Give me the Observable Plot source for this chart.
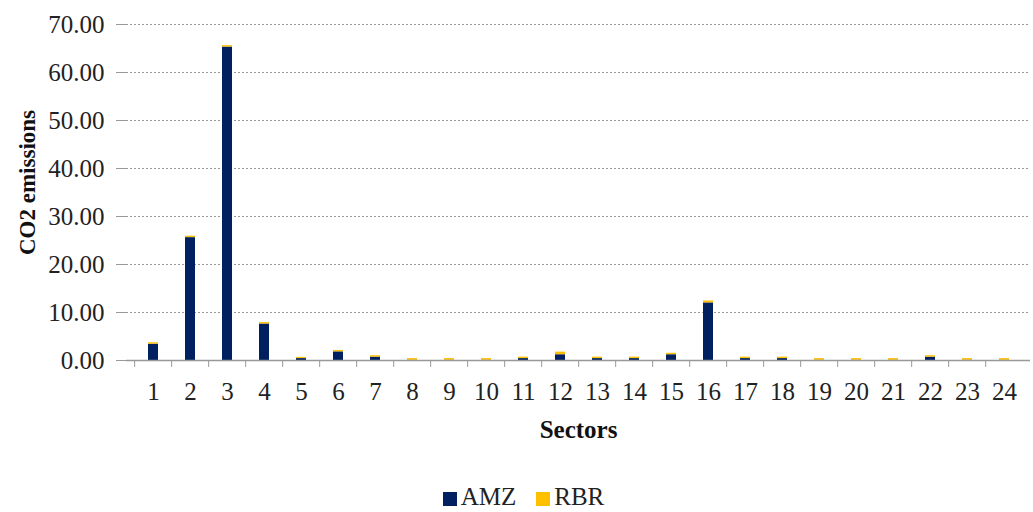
<!DOCTYPE html>
<html>
<head>
<meta charset="utf-8">
<script src="https://cdn.jsdelivr.net/npm/d3@7"></script>
<script src="https://cdn.jsdelivr.net/npm/@observablehq/plot@0.6"></script>
<style>
  body { margin: 0; background: #fff; font-family: "Liberation Serif", "Times New Roman", serif; }
  #legend { width: 1033px; display: flex; justify-content: center; gap: 20px; font-size: 25px; line-height: 30px; color: #222; margin-top: 37px; padding-left: 14px; box-sizing: border-box; }
  .item { display: flex; align-items: center; gap: 4px; }
  .sw { width: 14px; height: 14px; display: inline-block; margin-top: 3px; }
</style>
</head>
<body>
<div id="chart"></div>
<div id="legend"></div>
<script>
const sectors = [1,2,3,4,5,6,7,8,9,10,11,12,13,14,15,16,17,18,19,20,21,22,23,24];
const amz = [3.4,25.6,65.3,7.6,0.4,1.8,0.7,0.05,0.05,0.05,0.4,1.2,0.4,0.4,1.2,12.0,0.4,0.4,0.05,0.05,0.05,0.7,0.05,0.05];
const rbr = [0.3,0.3,0.3,0.3,0.25,0.3,0.3,0.35,0.35,0.35,0.3,0.55,0.3,0.3,0.3,0.4,0.3,0.3,0.35,0.35,0.35,0.3,0.35,0.35];
const seriesNames = ["AMZ", "RBR"];
const seriesColors = ["#002060", "#FFC000"];
const yTicks = [0,10,20,30,40,50,60,70];

const rows = [];
sectors.forEach((s, i) => {
  rows.push({sector: s, series: "AMZ", value: amz[i]});
  rows.push({sector: s, series: "RBR", value: rbr[i]});
});

const W = 1033, H = 445, mL = 126, mR = 3, mT = 24, mB = 85;
const step = (W - mL - mR) / sectors.length;

const chart = Plot.plot({
  width: W, height: H,
  marginLeft: mL, marginRight: mR, marginTop: mT, marginBottom: mB,
  style: {fontFamily: "Liberation Serif, serif", fontSize: "25px", color: "#222", background: "#fff"},
  x: {domain: sectors, paddingInner: 0.73, paddingOuter: 0.365},
  y: {domain: [0, 70]},
  color: {domain: seriesNames, range: seriesColors},
  marks: [
    Plot.gridY(yTicks.filter(d => d > 0), {stroke: "#999", strokeOpacity: 1, strokeDasharray: "2,2", strokeWidth: 1}),
    Plot.barY(rows, Plot.stackY({x: "sector", y: "value", fill: "series", order: seriesNames})),
    Plot.ruleY([0], {stroke: "#999", strokeWidth: 1.5}),
    Plot.ruleX([0], {frameAnchor: "left", y1: 0, y2: 70, stroke: "#999", strokeWidth: 1.5}),
    Plot.axisY({ticks: yTicks, tickFormat: d => d.toFixed(2), tickSize: 10, tickPadding: 12, stroke: "#999", label: null, fontSize: 25}),
    Plot.axisX({tickSize: 0, tickPadding: 22, label: null, fontSize: 25}),
    Plot.axisX({tickSize: 7, text: null, dx: -step / 2, stroke: "#999", label: null}),
    Plot.text(["Sectors"], {frameAnchor: "bottom", lineAnchor: "middle", textAnchor: "middle", dy: 69, fontWeight: "bold", fontSize: 25, fill: "#111"}),
    Plot.text(["CO2 emissions"], {frameAnchor: "left", textAnchor: "middle", lineAnchor: "middle", rotate: -90, dx: -99, dy: -10, fontWeight: "bold", fontSize: 23, fill: "#111"})
  ]
});
document.getElementById("chart").appendChild(chart);

const legend = document.getElementById("legend");
seriesNames.forEach((n, i) => {
  const item = document.createElement("span");
  item.className = "item";
  const sw = document.createElement("span");
  sw.className = "sw";
  sw.style.background = seriesColors[i];
  item.appendChild(sw);
  item.appendChild(document.createTextNode(n));
  legend.appendChild(item);
});
</script>
</body>
</html>
